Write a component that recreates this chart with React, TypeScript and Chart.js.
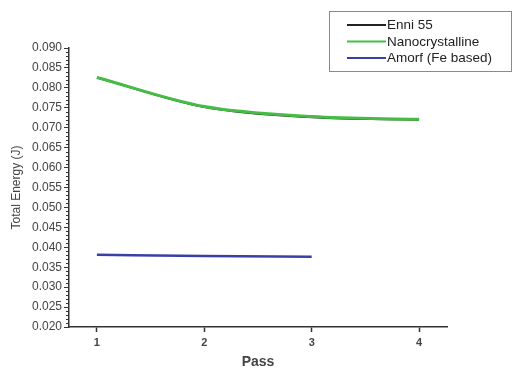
import React, { useEffect, useRef } from "react";
import { Chart, registerables } from "chart.js";

Chart.register(...registerables);

const passes = [1, 2, 3, 4];
const passesAmorf = [1, 2, 3];
const seriesLabels = ["Enni 55", "Nanocrystalline", "Amorf (Fe based)"];
const enni55 = [0.0826, 0.0752, 0.0726, 0.0720];
const nanocrystalline = [0.0826, 0.0753, 0.0728, 0.0721];
const amorf = [0.0381, 0.0378, 0.0376];
const yTicks = [0.02, 0.025, 0.03, 0.035, 0.04, 0.045, 0.05, 0.055, 0.06, 0.065, 0.07, 0.075, 0.08, 0.085, 0.09];
const xTicks = [1, 2, 3, 4];
const seriesColors = ["#222222", "#45bd45", "#3a3fa6"];

const FONT = "'Liberation Sans', Arial, sans-serif";

const minorTicksPlugin = {
  id: "minorTicks",
  afterDraw(chart: any) {
    const ctx = chart.ctx;
    const y = chart.scales.y;
    const left = chart.chartArea.left;
    ctx.save();
    ctx.strokeStyle = "#333";
    ctx.lineWidth = 1;
    for (let i = 20; i <= 90; i++) {
      if (i % 5 === 0) continue;
      const py = Math.round(y.getPixelForValue(i / 1000)) + 0.5;
      ctx.beginPath();
      ctx.moveTo(left - 3, py);
      ctx.lineTo(left, py);
      ctx.stroke();
    }
    ctx.restore();
  },
};

const legendPlugin = {
  id: "boxLegend",
  afterDraw(chart: any) {
    const ctx = chart.ctx;
    ctx.save();
    ctx.strokeStyle = "#8a8a8a";
    ctx.lineWidth = 1;
    ctx.strokeRect(329.5, 11.5, 182, 60);
    const rows = [25, 41.5, 58];
    chart.data.datasets.forEach((ds: any, i: number) => {
      ctx.strokeStyle = ds.borderColor;
      ctx.lineWidth = 2;
      ctx.beginPath();
      ctx.moveTo(347, rows[i]);
      ctx.lineTo(386, rows[i]);
      ctx.stroke();
      ctx.fillStyle = "#222";
      ctx.font = `13.5px ${FONT}`;
      ctx.textBaseline = "middle";
      ctx.textAlign = "left";
      ctx.fillText(ds.label, 387, rows[i] + 0.5);
    });
    ctx.restore();
  },
};

export default function App() {
  const ref = useRef<HTMLCanvasElement>(null);
  useEffect(() => {
    document.body.style.margin = "0";
    const chart = new Chart(ref.current!, {
      type: "line",
      data: {
        datasets: [
          {
            label: seriesLabels[0],
            data: passes.map((p, i) => ({ x: p, y: enni55[i] })),
            borderColor: seriesColors[0],
            borderWidth: 2,
            pointRadius: 0,
            tension: 0.4,
            cubicInterpolationMode: "monotone",
            order: 3,
          },
          {
            label: seriesLabels[1],
            data: passes.map((p, i) => ({ x: p, y: nanocrystalline[i] })),
            borderColor: seriesColors[1],
            borderWidth: 3,
            pointRadius: 0,
            tension: 0.4,
            cubicInterpolationMode: "monotone",
            order: 2,
          },
          {
            label: seriesLabels[2],
            data: passesAmorf.map((p, i) => ({ x: p, y: amorf[i] })),
            borderColor: seriesColors[2],
            borderWidth: 2.5,
            pointRadius: 0,
            tension: 0.4,
            cubicInterpolationMode: "monotone",
            order: 1,
          },
        ],
      },
      options: {
        animation: false,
        responsive: false,
        layout: { padding: { top: 48, right: 65, left: 0, bottom: 0 } },
        plugins: { legend: { display: false }, tooltip: { enabled: false } },
        scales: {
          x: {
            type: "linear",
            min: 0.74,
            max: 4.26,
            afterBuildTicks: (s: any) => {
              s.ticks = xTicks.map((v) => ({ value: v }));
            },
            afterFit: (s: any) => {
              s.height = 42;
            },
            grid: { drawOnChartArea: false, drawTicks: true, tickLength: 5, tickColor: "#333", tickWidth: 1.5 },
            border: { display: true, color: "#333", width: 1.5 },
            ticks: {
              padding: 4,
              color: "#444",
              font: { family: FONT, size: 11, weight: "bold" },
              callback: (v: any) => String(v),
            },
            title: {
              display: true,
              text: "Pass",
              color: "#444",
              font: { family: FONT, size: 14, weight: "bold", lineHeight: 1.05 },
              padding: { top: 0, bottom: 0 },
            },
          },
          y: {
            type: "linear",
            min: 0.02,
            max: 0.09,
            afterBuildTicks: (s: any) => {
              s.ticks = yTicks.map((v) => ({ value: v }));
            },
            afterFit: (s: any) => {
              s.width = 69;
            },
            grid: { drawOnChartArea: false, drawTicks: true, tickLength: 5, tickColor: "#333", tickWidth: 1 },
            border: { display: true, color: "#333", width: 1.5 },
            ticks: {
              padding: 2,
              color: "#444",
              font: { family: FONT, size: 12 },
              callback: (v: any) => Number(v).toFixed(3),
            },
            title: {
              display: true,
              text: "Total Energy (J)",
              color: "#444",
              font: { family: FONT, size: 12, lineHeight: 1.2 },
              padding: { top: 9, bottom: 0 },
            },
          },
        },
      },
      plugins: [minorTicksPlugin, legendPlugin],
    } as any);
    return () => chart.destroy();
  }, []);
  return (
    <div style={{ width: 512, height: 369 }}>
      <canvas ref={ref} width={512} height={369} style={{ display: "block" }} />
    </div>
  );
}
